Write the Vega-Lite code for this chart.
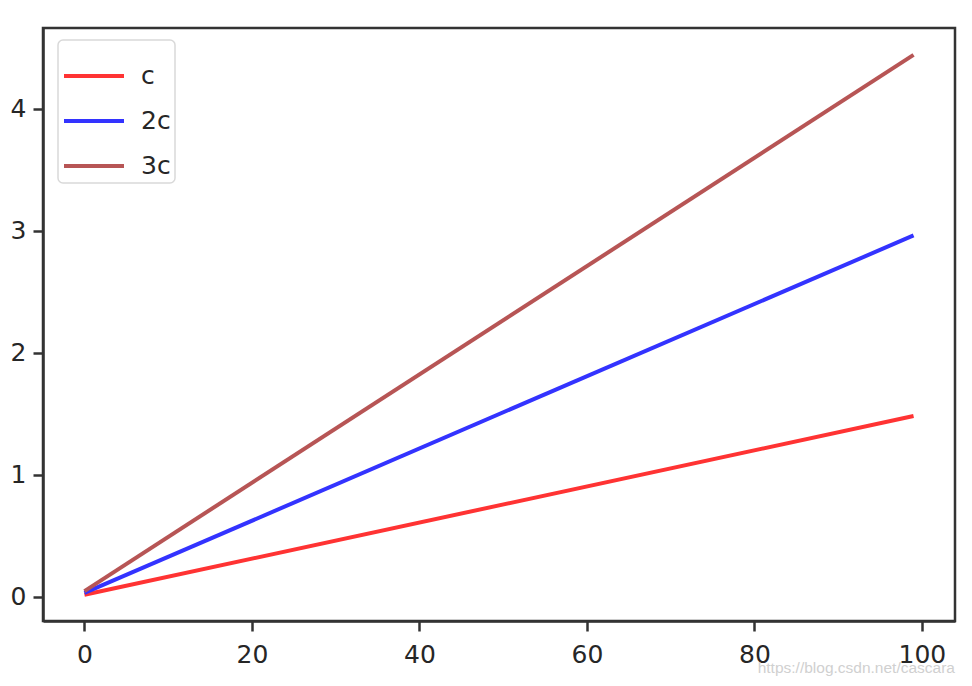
{
  "$schema": "https://vega.github.io/schema/vega-lite/v6.json",
  "autosize": "none",
  "width": 912,
  "height": 593,
  "padding": {"left": 43, "top": 28, "right": 17, "bottom": 65},
  "background": "white",
  "config": {
    "font": "DejaVu Sans",
    "view": {"stroke": "#333333", "strokeWidth": 2.5},
    "axis": {
      "grid": false,
      "domainColor": "#333333",
      "domainWidth": 2.5,
      "tickColor": "#333333",
      "tickWidth": 2.5,
      "tickSize": 10,
      "labelFont": "DejaVu Sans",
      "labelFontSize": 25,
      "labelColor": "#262626",
      "labelPadding": 7,
      "title": null
    },
    "legend": {"strokeWidth": 1.5}
  },
  "title": {
    "text": "https://blog.csdn.net/cascara",
    "orient": "bottom",
    "anchor": "end",
    "color": "#d0d0d0",
    "font": "Liberation Sans",
    "fontSize": 15.5,
    "fontWeight": "normal",
    "offset": -6
  },
  "data": {
    "values": [
      {"x": 0, "y": 0.015, "s": "c"},
      {"x": 99, "y": 1.48, "s": "c"},
      {"x": 0, "y": 0.03, "s": "2c"},
      {"x": 99, "y": 2.96, "s": "2c"},
      {"x": 0, "y": 0.045, "s": "3c"},
      {"x": 99, "y": 4.44, "s": "3c"}
    ]
  },
  "mark": {"type": "line", "strokeWidth": 4, "clip": true},
  "encoding": {
    "x": {
      "field": "x",
      "type": "quantitative",
      "scale": {"domain": [-4.95, 103.95], "nice": false, "zero": false},
      "axis": {"values": [0, 20, 40, 60, 80, 100], "labelFlush": false, "labelPadding": 11}
    },
    "y": {
      "field": "y",
      "type": "quantitative",
      "scale": {"domain": [-0.2, 4.66], "nice": false, "zero": false},
      "axis": {"values": [0, 1, 2, 3, 4], "labelFlush": false}
    },
    "color": {
      "field": "s",
      "type": "nominal",
      "scale": {"domain": ["c", "2c", "3c"], "range": ["#ff3333", "#3333ff", "#b75555"]},
      "legend": {
        "title": null,
        "orient": "none",
        "legendX": 15,
        "legendY": 12,
        "symbolType": "stroke",
        "symbolSize": 3600,
        "symbolStrokeWidth": 4,
        "symbolOffset": 0,
        "labelFontSize": 25,
        "labelFont": "DejaVu Sans",
        "labelColor": "#262626",
        "labelOffset": 15,
        "rowPadding": -12,
        "padding": 4,
        "strokeColor": "#d9d9d9",
        "cornerRadius": 5,
        "fillColor": "white"
      }
    }
  }
}
